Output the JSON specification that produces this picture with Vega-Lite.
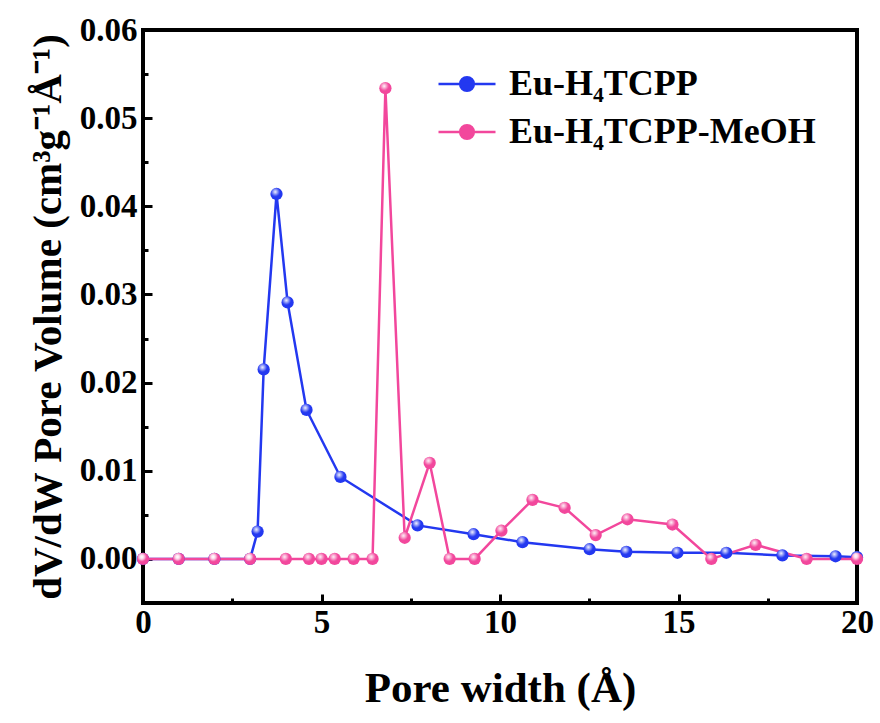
{
  "$schema": "https://vega.github.io/schema/vega-lite/v6.json",
  "width": 714,
  "height": 573,
  "autosize": {"type": "none"},
  "padding": {"left": 143, "top": 30, "right": 23, "bottom": 120},
  "background": "white",
  "config": {
    "view": {"stroke": "black", "strokeWidth": 4},
    "font": "Liberation Serif"
  },
  "data": {
    "values": [
      {"w": 0, "v": 0, "s": "Eu-H₄TCPP"},
      {"w": 1, "v": 0, "s": "Eu-H₄TCPP"},
      {"w": 2, "v": 0, "s": "Eu-H₄TCPP"},
      {"w": 3, "v": 0, "s": "Eu-H₄TCPP"},
      {"w": 3.21, "v": 0.0031, "s": "Eu-H₄TCPP"},
      {"w": 3.38, "v": 0.0215, "s": "Eu-H₄TCPP"},
      {"w": 3.74, "v": 0.0414, "s": "Eu-H₄TCPP"},
      {"w": 4.05, "v": 0.0291, "s": "Eu-H₄TCPP"},
      {"w": 4.58, "v": 0.0169, "s": "Eu-H₄TCPP"},
      {"w": 5.53, "v": 0.0093, "s": "Eu-H₄TCPP"},
      {"w": 7.69, "v": 0.0038, "s": "Eu-H₄TCPP"},
      {"w": 9.26, "v": 0.0028, "s": "Eu-H₄TCPP"},
      {"w": 10.63, "v": 0.0019, "s": "Eu-H₄TCPP"},
      {"w": 12.51, "v": 0.0011, "s": "Eu-H₄TCPP"},
      {"w": 13.54, "v": 0.0008, "s": "Eu-H₄TCPP"},
      {"w": 14.97, "v": 0.0007, "s": "Eu-H₄TCPP"},
      {"w": 16.34, "v": 0.0007, "s": "Eu-H₄TCPP"},
      {"w": 17.91, "v": 0.0004, "s": "Eu-H₄TCPP"},
      {"w": 19.4, "v": 0.0003, "s": "Eu-H₄TCPP"},
      {"w": 20, "v": 0.0002, "s": "Eu-H₄TCPP"},
      {"w": 0, "v": 0, "s": "Eu-H₄TCPP-MeOH"},
      {"w": 1, "v": 0, "s": "Eu-H₄TCPP-MeOH"},
      {"w": 2, "v": 0, "s": "Eu-H₄TCPP-MeOH"},
      {"w": 3, "v": 0, "s": "Eu-H₄TCPP-MeOH"},
      {"w": 4, "v": 0, "s": "Eu-H₄TCPP-MeOH"},
      {"w": 4.65, "v": 0, "s": "Eu-H₄TCPP-MeOH"},
      {"w": 5.0, "v": 0, "s": "Eu-H₄TCPP-MeOH"},
      {"w": 5.37, "v": 0, "s": "Eu-H₄TCPP-MeOH"},
      {"w": 5.9, "v": 0, "s": "Eu-H₄TCPP-MeOH"},
      {"w": 6.43, "v": 0, "s": "Eu-H₄TCPP-MeOH"},
      {"w": 6.79, "v": 0.0534, "s": "Eu-H₄TCPP-MeOH"},
      {"w": 7.33, "v": 0.0024, "s": "Eu-H₄TCPP-MeOH"},
      {"w": 8.03, "v": 0.0109, "s": "Eu-H₄TCPP-MeOH"},
      {"w": 8.59, "v": 0, "s": "Eu-H₄TCPP-MeOH"},
      {"w": 9.29, "v": 0, "s": "Eu-H₄TCPP-MeOH"},
      {"w": 10.04, "v": 0.0032, "s": "Eu-H₄TCPP-MeOH"},
      {"w": 10.91, "v": 0.0067, "s": "Eu-H₄TCPP-MeOH"},
      {"w": 11.81, "v": 0.0058, "s": "Eu-H₄TCPP-MeOH"},
      {"w": 12.68, "v": 0.0027, "s": "Eu-H₄TCPP-MeOH"},
      {"w": 13.57, "v": 0.0045, "s": "Eu-H₄TCPP-MeOH"},
      {"w": 14.83, "v": 0.0039, "s": "Eu-H₄TCPP-MeOH"},
      {"w": 15.92, "v": 0, "s": "Eu-H₄TCPP-MeOH"},
      {"w": 17.16, "v": 0.0016, "s": "Eu-H₄TCPP-MeOH"},
      {"w": 18.59, "v": 0, "s": "Eu-H₄TCPP-MeOH"},
      {"w": 20, "v": 0, "s": "Eu-H₄TCPP-MeOH"}
    ]
  },
  "encoding": {
    "x": {
      "field": "w", "type": "quantitative",
      "scale": {"domain": [0, 20], "nice": false},
      "axis": {
        "title": "Pore width (Å)",
        "values": [0, 2.5, 5, 7.5, 10, 12.5, 15, 17.5, 20],
        "labelExpr": "datum.value % 5 === 0 ? format(datum.value, 'd') : ''",
        "domain": false, "grid": false,
        "tickColor": "black", "tickWidth": 3,
        "tickSize": {"condition": {"test": "datum.value % 5 !== 0", "value": -5}, "value": -9},
        "labelFont": "Liberation Serif", "labelFontSize": 33, "labelFontWeight": "bold", "labelColor": "black",
        "labelPadding": 12, "labelFlush": false, "labelOverlap": false,
        "titleFont": "Liberation Serif", "titleFontSize": 43, "titleFontWeight": "bold", "titleColor": "black",
        "titlePadding": 24
      }
    },
    "y": {
      "field": "v", "type": "quantitative",
      "scale": {"domain": [-0.005, 0.06], "nice": false, "zero": false},
      "axis": {
        "title": "dV/dW Pore Volume (cm³g⁻¹Å⁻¹)",
        "values": [0, 0.005, 0.01, 0.015, 0.02, 0.025, 0.03, 0.035, 0.04, 0.045, 0.05, 0.055, 0.06],
        "labelExpr": "abs(datum.value * 100 - round(datum.value * 100)) < 0.001 ? format(datum.value, '.2f') : ''",
        "domain": false, "grid": false,
        "tickColor": "black", "tickWidth": 3,
        "tickSize": {"condition": {"test": "abs(datum.value * 100 - round(datum.value * 100)) > 0.001", "value": -5}, "value": -9},
        "labelFont": "Liberation Serif", "labelFontSize": 33, "labelFontWeight": "bold", "labelColor": "black",
        "labelPadding": 15, "labelFlush": false, "labelOverlap": false,
        "titleFont": "Liberation Serif", "titleFontSize": 41, "titleFontWeight": "bold", "titleColor": "black",
        "titlePadding": 10
      }
    }
  },
  "layer": [
    {
      "mark": {"type": "line", "strokeWidth": 2.5},
      "encoding": {
        "color": {
          "field": "s", "type": "nominal",
          "scale": {"domain": ["Eu-H₄TCPP", "Eu-H₄TCPP-MeOH"], "range": ["#2338f0", "#f2479c"]},
          "legend": {
            "title": null,
            "orient": "none", "legendX": 294, "legendY": 24,
            "padding": 0,
            "symbolType": "M-1,0L1,0M-0.24,0A0.24,0.24,0,1,1,0.24,0A0.24,0.24,0,1,1,-0.24,0Z",
            "symbolSize": 3249,
            "symbolStrokeWidth": 2.5,
            "labelFont": "Liberation Serif", "labelFontSize": 36, "labelFontWeight": "bold", "labelColor": "black",
            "labelOffset": 12, "labelLimit": 600, "rowPadding": 0,
            "encode": {
              "symbols": {
                "update": {
                  "fill": {"scale": "color", "field": "value"},
                  "stroke": {"scale": "color", "field": "value"},
                  "strokeWidth": {"value": 2.5},
                  "opacity": {"value": 1}
                }
              }
            }
          }
        }
      }
    },
    {
      "mark": {"type": "point", "filled": true, "size": 150, "opacity": 1},
      "encoding": {
        "color": {"field": "s", "type": "nominal"}
      }
    },
    {
      "mark": {
        "type": "point", "filled": true, "size": 150, "opacity": 1,
        "fill": {
          "gradient": "radial",
          "x1": 0.4, "y1": 0.33, "r1": 0,
          "x2": 0.4, "y2": 0.33, "r2": 0.38,
          "stops": [
            {"offset": 0, "color": "rgba(255,255,255,0.95)"},
            {"offset": 1, "color": "rgba(255,255,255,0)"}
          ]
        }
      }
    }
  ]
}
